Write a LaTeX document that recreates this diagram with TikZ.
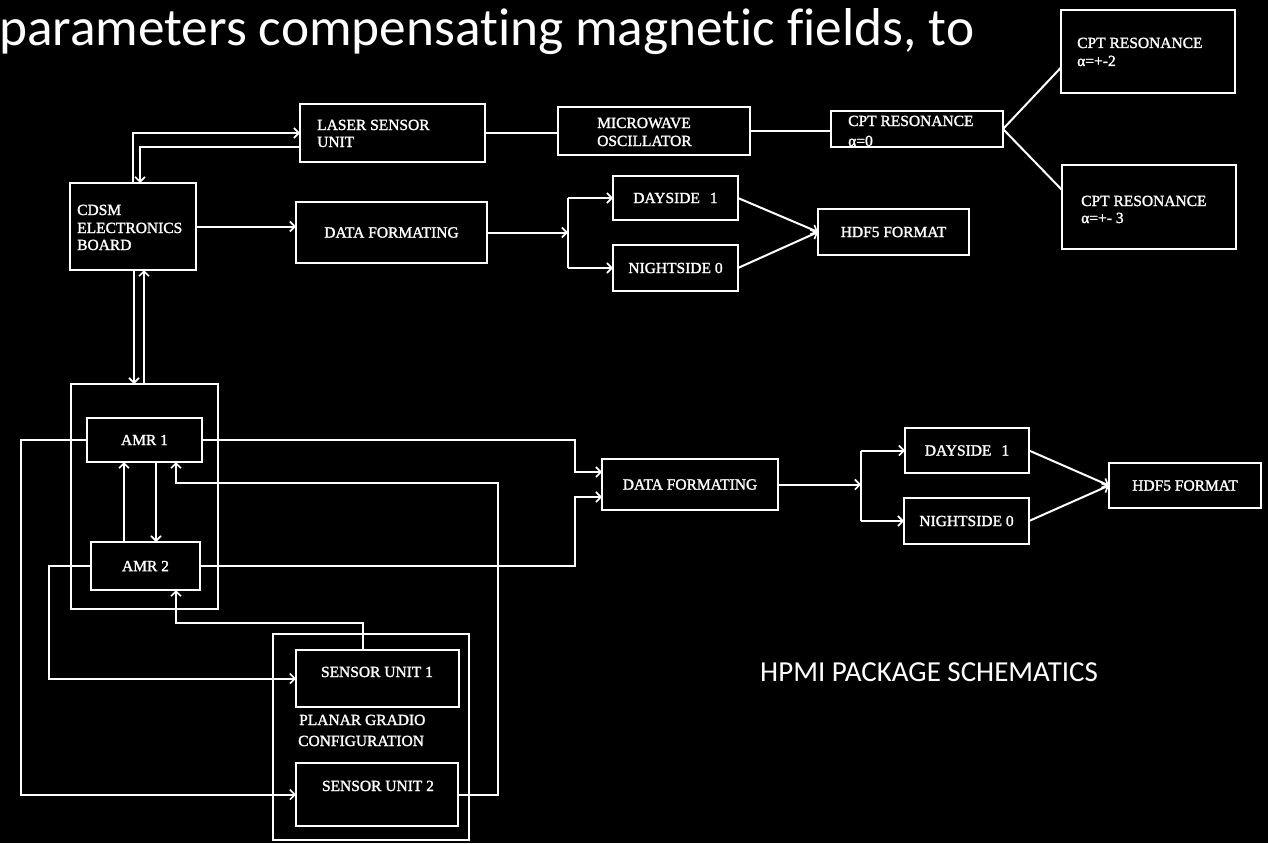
\documentclass[tikz,border=0pt]{standalone}
\usepackage{fontspec}
\setmainfont{Liberation Serif}
\newfontfamily\calfont[Ligatures=NoCommon]{Carlito}
\newfontfamily\boxfont[FakeBold=1.6]{Liberation Serif}
\usetikzlibrary{arrows.meta,calc}
\newcommand\bx[6][]{\node[box,#1,minimum width={#5-#3},minimum height={#6-#4}] (#2) at ({(#3+#5)/2},{(#4+#6)/2}) {};}
\begin{document}
\begin{tikzpicture}[x=1pt,y=-1pt,
  box/.style={draw=white,line width=2pt,outer sep=0pt,inner sep=0pt},
  wire/.style={draw=white,line width=2pt},
  arr/.style={wire,-{Straight Barb[length=5pt,width=10pt,line width=1.6pt]}},
  lbl/.style={text=white,inner sep=0pt,font=\boxfont\fontsize{15.5}{18}\selectfont},
  big/.style={text=white,inner sep=0pt,font=\calfont\fontsize{53.3}{60}\selectfont},
  captxt/.style={text=white,inner sep=0pt,font=\calfont\fontsize{29}{34}\selectfont}]
\fill[black] (0,0) rectangle (1268,843);
\useasboundingbox (0,0) rectangle (1268,843);

% title
\node[big,anchor=base west] (title) at (-1,46) {parameters compensating magnetic fields, to};

% boxes (top)
\bx{laser}{300}{104}{485}{162}
\bx{micro}{558}{107}{750}{155}
\bx{cpt0}{831}{111}{1003}{147}
\bx{cpt2}{1061}{10}{1235}{93}
\bx{cpt3}{1062}{165}{1236}{249}
\bx{cdsm}{70}{183}{196}{270}
\bx{df1}{296}{202}{487}{263}
\bx{day1}{613}{176}{738}{220}
\bx{night1}{613}{245}{738}{291}
\bx{hdf1}{818}{209}{969}{255}

% boxes (bottom)
\bx{amrout}{71}{384}{218}{609}
\bx{amr1}{87}{418}{202}{462}
\bx{amr2}{91}{542}{200}{590}
\bx{df2}{602}{459}{778}{510}
\bx{day2}{905}{428}{1029}{473}
\bx{night2}{904}{498}{1029}{544}
\bx{hdf2}{1109}{463}{1261}{508}
\bx{sensout}{273}{634}{469}{840}
\bx{su1}{296}{650}{459}{707}
\bx{su2}{296}{763}{458}{826}

% labels
\node[lbl,anchor=base west] (laserA) at (317,130) {LASER SENSOR};
\node[lbl,anchor=base west] (laserB) at (317,147) {UNIT};
\node[lbl,anchor=base west] (microA) at (597,128) {MICROWAVE};
\node[lbl,anchor=base west] (microB) at (597,146) {OSCILLATOR};
\node[lbl,anchor=base west] (cpt0A) at (848,126) {CPT RESONANCE};
\node[lbl,anchor=base west] (cpt0B) at (848,146) {α=0};
\node[lbl,anchor=base west] (cpt2A) at (1077,48) {CPT RESONANCE};
\node[lbl,anchor=base west] (cpt2B) at (1077,66) {α=+-2};
\node[lbl,anchor=base west] (cpt3A) at (1081,206) {CPT RESONANCE};
\node[lbl,anchor=base west] (cpt3B) at (1081,223) {α=+- 3};
\node[lbl,anchor=base west] (cdsmA) at (77,215) {CDSM};
\node[lbl,anchor=base west] (cdsmB) at (77,233) {ELECTRONICS};
\node[lbl,anchor=base west] (cdsmC) at (77,250) {BOARD};
\node[lbl] (df1t) at (df1) {DATA FORMATING};
\node[lbl] (day1t) at (day1) {DAYSIDE\hspace{10pt}1};
\node[lbl] (night1t) at (night1) {NIGHTSIDE 0};
\node[lbl] (hdf1t) at (hdf1) {HDF5 FORMAT};
\node[lbl] (amr1t) at (amr1) {AMR 1};
\node[lbl] (amr2t) at (amr2) {AMR 2};
\node[lbl] (df2t) at (df2) {DATA FORMATING};
\node[lbl] (day2t) at (day2) {DAYSIDE\hspace{10pt}1};
\node[lbl] (night2t) at (night2) {NIGHTSIDE 0};
\node[lbl] (hdf2t) at (hdf2) {HDF5 FORMAT};
\node[lbl,anchor=base] (su1t) at (377,677) {SENSOR UNIT 1};
\node[lbl,anchor=base] (su2t) at (378,791) {SENSOR UNIT 2};
\node[lbl,anchor=base west] (planA) at (299,725) {PLANAR GRADIO};
\node[lbl,anchor=base west] (planB) at (298,746) {CONFIGURATION};
\node[captxt,anchor=base west] (hpmi) at (760,681) {HPMI PACKAGE SCHEMATICS};

% helper coordinates
\coordinate (jA) at (568,232);
\coordinate (jB) at (861,485);
\coordinate (c1) at ([xshift=64pt]cdsm.south west);
\coordinate (c2) at ([xshift=74pt]cdsm.south west);
\coordinate (a1) at ([xshift=37pt]amr1.south west);
\coordinate (a2) at ([xshift=69pt]amr1.south west);
\coordinate (a3) at ([xshift=89pt]amr1.south west);
\coordinate (L1) at (21,0);
\coordinate (L2) at (49,0);
\coordinate (R1) at (498,483);
\coordinate (B1) at (176,623);
\coordinate (M1) at (575,0);
\coordinate (d2a) at ([yshift=12.5pt]df2.west);
\coordinate (d2b) at ([yshift=-12.5pt]df2.west);
\coordinate (s1t) at ([xshift=67pt]su1.north west);

% top connectors
\draw[arr] ([xshift=63pt]cdsm.north west) |- ([yshift=-29pt]laser.north west);
\draw[arr] ([yshift=-43pt]laser.north west) -| ([xshift=70pt]cdsm.north west);
\draw[arr] (cdsm.east) -- (cdsm.east -| df1.west);
\draw[wire] (laser.east) -- (laser.east -| micro.west);
\draw[wire] (micro.east) -- (micro.east -| cpt0.west);
\draw[wire] (cpt0.east) -- ([yshift=-16pt]cpt2.west);
\draw[wire] (cpt0.east) -- ([yshift=17pt]cpt3.west);
\draw[arr] (df1.east) -- (df1.east -| jA);
\draw[wire] (jA |- day1.west) -- (jA |- night1.west);
\draw[arr] (jA |- day1.west) -- (day1.west);
\draw[arr] (jA |- night1.west) -- (night1.west);
\draw[arr] (day1.east) -- (hdf1.west);
\draw[arr] (night1.east) -- (hdf1.west);

% CDSM <-> AMR block
\draw[arr] (c1) -- (c1 |- amrout.north);
\draw[arr] (c2 |- amrout.north) -- (c2);
\draw[arr] (a1 |- amr2.north) -- (a1);
\draw[arr] (a2) -- (a2 |- amr2.north);

% AMR <-> sensors
\draw[arr] (amr1.west) -| (L1 |- su2.west) -- (su2.west);
\draw[arr] (amr2.west) -| (L2 |- su1.west) -- (su1.west);
\draw[arr] (su2.east) -| (R1) -| (a3);
\draw[arr] (s1t) |- (B1) -- (B1 |- amr2.south);

% AMR -> data formating
\draw[arr] (amr1.east) -| (M1 |- d2a) -- (d2a);
\draw[arr] (amr2.east) -| (M1 |- d2b) -- (d2b);
\draw[arr] (df2.east) -- (df2.east -| jB);
\draw[wire] (jB |- day2.west) -- (jB |- night2.west);
\draw[arr] (jB |- day2.west) -- (day2.west);
\draw[arr] (jB |- night2.west) -- (night2.west);
\draw[arr] (day2.east) -- (hdf2.west);
\draw[arr] (night2.east) -- (hdf2.west);
\end{tikzpicture}
\end{document}
